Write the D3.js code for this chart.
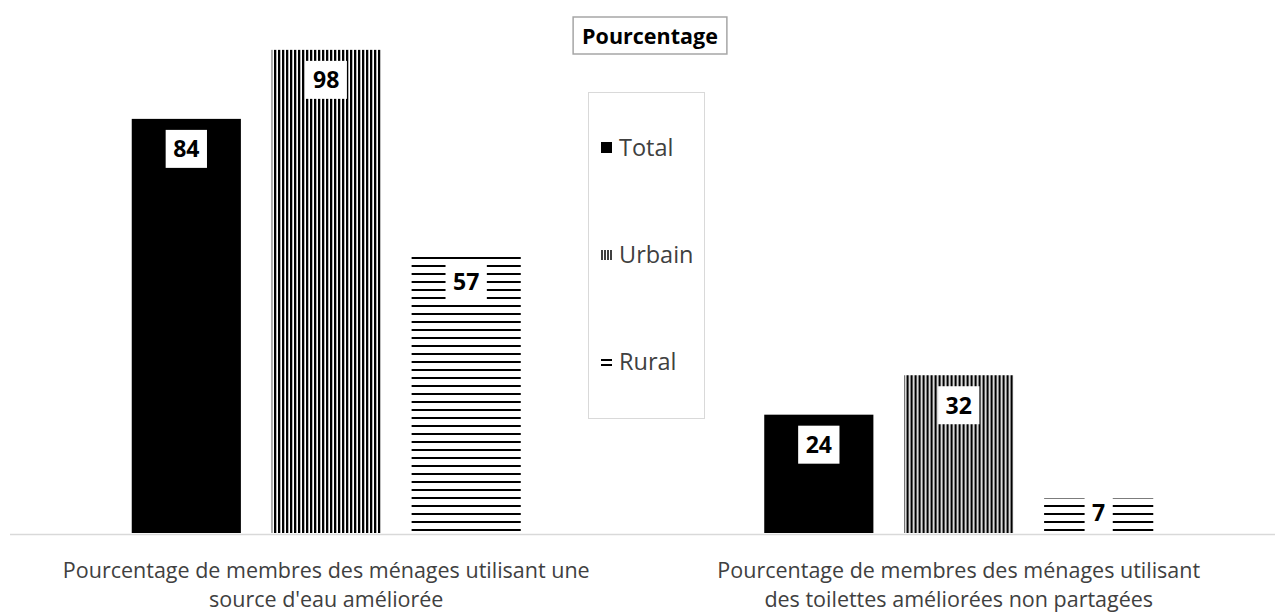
<!DOCTYPE html>
<html>
<head>
<meta charset="utf-8">
<script src="https://cdn.jsdelivr.net/npm/d3@7"></script>
<style>
  body { margin: 0; background: #fff; }
  text { font-family: "Open Sans", Lato, sans-serif; }
  .label { font-weight: bold; font-size: 23px; fill: #000; text-anchor: middle; }
  .tick-label { font-size: 21.5px; fill: #404040; text-anchor: middle; }
  .legend-label { font-size: 23.5px; fill: #404040; }
</style>
</head>
<body>
<div id="wrapper-bar"></div>
<script>
'use strict';

//#region DATASET
const categories = ['eau', 'toilettes'];
const tickLabels = [
  ['Pourcentage de membres des ménages utilisant une', "source d'eau améliorée"],
  ['Pourcentage de membres des ménages utilisant', 'des toilettes améliorées non partagées']
];
const seriesNames = ['Total', 'Urbain', 'Rural'];
const totalValues = [84, 24];
const urbainValues = [98, 32];
const ruralValues = [57, 7];
const chartTitle = 'Pourcentage';
//#endregion DATASET

function drawBar () {
  const seriesValues = [totalValues, urbainValues, ruralValues];
  const fills = ['#000', 'url(#vert)', 'url(#horiz)'];

  //#region CHART DIMENSIONS
  const dimensions = {
    width: 1280,
    height: 613,
    margin: { top: 40, right: 5, bottom: 80, left: 10 }
  };
  dimensions.plotWidth = dimensions.width - dimensions.margin.left - dimensions.margin.right;
  dimensions.plotHeight = dimensions.height - dimensions.margin.top - dimensions.margin.bottom;
  //#endregion CHART DIMENSIONS

  //#region DRAW CANVAS
  const wrapper = d3.select('#wrapper-bar').append('svg')
    .attr('width', dimensions.width)
    .attr('height', dimensions.height);

  const defs = wrapper.append('defs');
  const vert = defs.append('pattern')
    .attr('id', 'vert')
    .attr('patternUnits', 'userSpaceOnUse')
    .attr('width', 4).attr('height', 4);
  vert.append('rect').attr('width', 4).attr('height', 4).attr('fill', '#fff');
  vert.append('rect').attr('width', 2.3).attr('height', 4).attr('fill', '#000');

  const horiz = defs.append('pattern')
    .attr('id', 'horiz')
    .attr('patternUnits', 'userSpaceOnUse')
    .attr('width', 8).attr('height', 8);
  horiz.append('rect').attr('width', 8).attr('height', 8).attr('fill', '#fff');
  horiz.append('rect').attr('y', 1).attr('width', 8).attr('height', 2).attr('fill', '#000');

  const plot = wrapper.append('g')
    .attr('transform', `translate(${dimensions.margin.left}, ${dimensions.margin.top})`);
  //#endregion DRAW CANVAS

  //#region CREATE SCALES
  const xScale = d3.scaleBand()
    .domain(categories)
    .range([0, dimensions.plotWidth]);

  const seriesScale = d3.scaleBand()
    .domain(seriesNames)
    .range([0, xScale.bandwidth()])
    .paddingInner(0.22)
    .paddingOuter(0.87);

  const yScale = d3.scaleLinear()
    .domain([0, 100])
    .range([dimensions.plotHeight, 0]);
  //#endregion CREATE SCALES

  //#region DRAW DATA
  const catGroups = plot.selectAll('g.cat').data(categories)
    .enter()
    .append('g')
    .attr('class', 'cat')
    .attr('transform', d => `translate(${xScale(d)}, 0)`);

  const bars = catGroups.selectAll('g.bar')
    .data((d, i) => seriesNames.map((s, j) => ({ series: s, value: seriesValues[j][i], fill: fills[j] })))
    .enter()
    .append('g')
    .attr('class', 'bar');

  bars.append('rect')
    .attr('x', d => seriesScale(d.series))
    .attr('y', d => yScale(d.value))
    .attr('width', seriesScale.bandwidth())
    .attr('height', d => dimensions.plotHeight - yScale(d.value))
    .attr('fill', d => d.fill);

  const labelY = d => Math.min(yScale(d.value) + 30, (yScale(d.value) + dimensions.plotHeight) / 2 - 3);

  bars.append('rect')
    .attr('class', 'lbox')
    .attr('fill', '#fff');

  bars.append('text')
    .attr('class', 'label')
    .attr('x', d => seriesScale(d.series) + seriesScale.bandwidth() / 2)
    .attr('y', labelY)
    .attr('dy', '0.36em')
    .text(d => d.value)
    .each(function (d) {
      const w = this.getComputedTextLength();
      d3.select(this.parentNode).select('rect.lbox')
        .attr('x', seriesScale(d.series) + seriesScale.bandwidth() / 2 - w / 2 - 7.5)
        .attr('y', labelY(d) - 19)
        .attr('width', w + 15)
        .attr('height', 38);
    });
  //#endregion DRAW DATA

  //#region DRAW PERIPHERALS
  plot.append('line')
    .attr('x1', 0)
    .attr('x2', dimensions.plotWidth)
    .attr('y1', dimensions.plotHeight + 1.5)
    .attr('y2', dimensions.plotHeight + 1.5)
    .attr('stroke', '#d9d9d9')
    .attr('stroke-width', 1.5);

  const tickGroups = plot.selectAll('text.tick-label').data(categories)
    .enter()
    .append('text')
    .attr('class', 'tick-label')
    .attr('x', d => xScale(d) + xScale.bandwidth() / 2)
    .attr('y', dimensions.plotHeight + 44.5);

  tickGroups.selectAll('tspan')
    .data((d, i) => tickLabels[i])
    .enter()
    .append('tspan')
    .attr('x', function () { return this.parentNode.getAttribute('x'); })
    .attr('dy', (d, i) => i === 0 ? 0 : 29.5)
    .text(d => d);

  // title box
  const titleGroup = wrapper.append('g');
  const titleBox = titleGroup.append('rect')
    .attr('fill', '#fff')
    .attr('stroke', '#a6a6a6')
    .attr('stroke-width', 1.5);
  const title = titleGroup.append('text')
    .attr('x', 650)
    .attr('y', 36)
    .attr('dy', '0.35em')
    .attr('text-anchor', 'middle')
    .style('font-weight', 'bold')
    .style('font-size', '21.5px')
    .style('fill', '#000')
    .text(chartTitle);
  const tw = title.node().getComputedTextLength();
  titleBox
    .attr('x', 650 - tw / 2 - 9)
    .attr('y', 17)
    .attr('width', tw + 18)
    .attr('height', 37);

  // legend
  const legend = wrapper.append('g');
  legend.append('rect')
    .attr('x', 588.5)
    .attr('y', 92.5)
    .attr('width', 116)
    .attr('height', 326)
    .attr('fill', '#fff')
    .attr('stroke', '#d9d9d9');

  const legendItems = legend.selectAll('g').data(seriesNames)
    .enter()
    .append('g')
    .attr('transform', (d, i) => `translate(601, ${148 + i * 107})`);

  legendItems.filter((d, i) => i === 0)
    .append('rect')
    .attr('x', 0)
    .attr('y', -6)
    .attr('width', 11)
    .attr('height', 11)
    .attr('fill', '#000');

  legendItems.filter((d, i) => i === 1)
    .selectAll('line').data([1, 4, 7, 10])
    .enter()
    .append('line')
    .attr('x1', d => d).attr('x2', d => d)
    .attr('y1', -5).attr('y2', 5)
    .attr('stroke', '#000')
    .attr('stroke-width', 1.5);

  legendItems.filter((d, i) => i === 2)
    .selectAll('line').data([-2, 3])
    .enter()
    .append('line')
    .attr('x1', 0).attr('x2', 11)
    .attr('y1', d => d).attr('y2', d => d)
    .attr('stroke', '#000')
    .attr('stroke-width', 2);

  legendItems.append('text')
    .attr('class', 'legend-label')
    .attr('x', 18)
    .attr('dy', '0.35em')
    .text(d => d);
  //#endregion
}

drawBar();
</script>
</body>
</html>
